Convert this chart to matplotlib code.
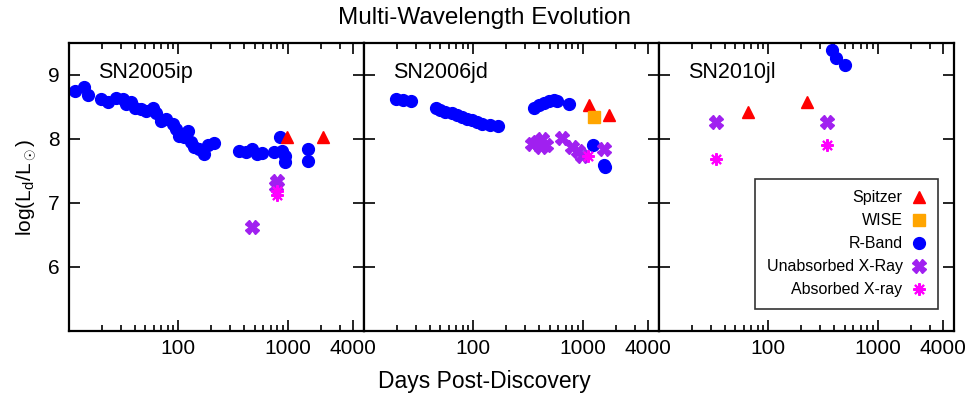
import numpy as np
import matplotlib
matplotlib.use('Agg')
import matplotlib.pyplot as plt
from matplotlib.ticker import FixedLocator, NullFormatter, FixedFormatter

plt.rcParams['font.family'] = ['Liberation Sans', 'DejaVu Sans']
plt.rcParams['mathtext.fontset'] = 'custom'
plt.rcParams['mathtext.rm'] = 'Liberation Sans'
plt.rcParams['mathtext.it'] = 'Liberation Sans'

names = ['SN2005ip', 'SN2006jd', 'SN2010jl']

# SN2005ip
rband_t_05 = [11.3, 13.7, 15, 19.8, 22.8, 27.1, 31.2, 33.4, 37.2, 39.8, 45.8, 50.8, 58.5, 62.7,
              69.5, 77.3, 88.8, 95.2, 102, 113, 122, 130, 140, 155, 172, 185, 212, 359, 412,
              474, 526, 584, 746, 857, 888, 952, 952, 1552, 1552]
rband_L_05 = [8.75, 8.81, 8.68, 8.62, 8.58, 8.64, 8.62, 8.54, 8.58, 8.49, 8.47, 8.44, 8.49, 8.40,
              8.28, 8.31, 8.23, 8.16, 8.05, 8.03, 8.13, 7.95, 7.87, 7.84, 7.77, 7.90, 7.94, 7.82,
              7.79, 7.84, 7.77, 7.78, 7.79, 8.03, 7.82, 7.74, 7.64, 7.84, 7.65]
spitzer_t_05 = [986, 2122]
spitzer_L_05 = [8.03, 8.03]
unabs_t_05 = [468, 800, 790]
unabs_L_05 = [6.63, 7.35, 7.27]
abs_t_05 = [800, 800]
abs_L_05 = [7.19, 7.13]

# SN2006jd
rband_t_06 = [19.7, 22.6, 26.9, 45.2, 50.1, 55.6, 63.8, 70.8, 78.6, 87.1, 96.6, 107, 119, 141,
              168, 359, 399, 443, 491, 545, 583, 743, 1247, 1570, 1610]
rband_L_06 = [8.62, 8.61, 8.60, 8.49, 8.46, 8.42, 8.40, 8.37, 8.34, 8.31, 8.30, 8.27, 8.23, 8.22,
              8.20, 8.48, 8.53, 8.57, 8.60, 8.61, 8.60, 8.54, 7.91, 7.60, 7.56]
spitzer_t_06 = [1148, 1727]
spitzer_L_06 = [8.53, 8.37]
wise_t_06 = [1265]
wise_L_06 = [8.34]
unabs_t_06 = [347, 385, 427, 458, 413, 647, 796, 914, 980, 1567]
unabs_L_06 = [7.92, 7.95, 8.00, 7.90, 7.87, 8.01, 7.87, 7.82, 7.74, 7.85]
abs_t_06 = [1109]
abs_L_06 = [7.73]

# SN2010jl
rband_t_10 = [384, 418, 508]
rband_L_10 = [9.39, 9.27, 9.15]
spitzer_t_10 = [64.9, 228]
spitzer_L_10 = [8.42, 8.58]
unabs_t_10 = [33.4, 344]
unabs_L_10 = [8.26, 8.26]
abs_t_10 = [33.2, 344]
abs_L_10 = [7.68, 7.91]

data = [
    dict(rb=(rband_t_05, rband_L_05), sp=(spitzer_t_05, spitzer_L_05), wi=([], []),
         ua=(unabs_t_05, unabs_L_05), ab=(abs_t_05, abs_L_05)),
    dict(rb=(rband_t_06, rband_L_06), sp=(spitzer_t_06, spitzer_L_06), wi=(wise_t_06, wise_L_06),
         ua=(unabs_t_06, unabs_L_06), ab=(abs_t_06, abs_L_06)),
    dict(rb=(rband_t_10, rband_L_10), sp=(spitzer_t_10, spitzer_L_10), wi=([], []),
         ua=(unabs_t_10, unabs_L_10), ab=(abs_t_10, abs_L_10)),
]

red = '#ff0000'
orange = '#ffa500'
blue = '#0000ff'
purple = '#a020f0'
magenta = '#ff00ff'

fig = plt.figure(figsize=(9.69, 3.99), dpi=100)
left, width = 69 / 969, 295 / 969
bottom, height = 1 - 331 / 399, 288 / 399

axes = []
handles = {}
for i in range(3):
    ax = fig.add_axes([left + i * width, bottom, width, height])
    axes.append(ax)
    d = data[i]
    handles['R-Band'], = ax.plot(*d['rb'], 'o', color=blue, ms=8.5, mec=blue)
    handles['Spitzer'], = ax.plot(*d['sp'], '^', color=red, ms=8.5, mec=red)
    if d['wi'][0]:
        handles['WISE'], = ax.plot(*d['wi'], 's', color=orange, ms=8.5, mec=orange)
    handles['Unabsorbed X-Ray'], = ax.plot(*d['ua'], 'X', color=purple, ms=10, mec=purple)
    handles['Absorbed X-ray'], = ax.plot(*d['ab'], ls='none', marker=(8, 2, 0), color=magenta,
                                         ms=9, mew=1.5)
    ax.set_xscale('log')
    ax.set_xlim(10, 5000)
    ax.set_ylim(5.0, 9.5)
    ax.xaxis.set_major_locator(FixedLocator([100, 1000, 4000]))
    ax.xaxis.set_major_formatter(FixedFormatter(['100', '1000', '4000']))
    ax.xaxis.set_minor_locator(FixedLocator([k * 10 ** e for e in range(1, 4) for k in range(1, 10)]))
    ax.xaxis.set_minor_formatter(NullFormatter())
    ax.set_yticks([6, 7, 8, 9])
    ax.tick_params(which='both', direction='in', top=True, right=True, labelsize=15, width=1.2)
    ax.tick_params(which='major', length=8)
    ax.tick_params(which='minor', length=4)
    ax.tick_params(axis='y', pad=7)
    ax.tick_params(axis='x', pad=6)
    for s in ax.spines.values():
        s.set_linewidth(1.6)
    if i > 0:
        ax.set_yticklabels([])
    ax.text(0.098, 0.935, names[i], transform=ax.transAxes, fontsize=15.5, va='top', ha='left')

axes[0].set_ylabel(r'log(L$_\mathrm{d}$/L$_\odot$)', fontsize=15, labelpad=6)

order = ['Spitzer', 'WISE', 'R-Band', 'Unabsorbed X-Ray', 'Absorbed X-ray']
leg = axes[2].legend([handles[k] for k in order], order, loc='lower right', markerfirst=False,
                     fontsize=11.5, frameon=True, fancybox=False, edgecolor='black',
                     handlelength=1.0, handletextpad=0.5, borderpad=0.7, labelspacing=0.5,
                     bbox_to_anchor=(0.972, 0.05))
leg.get_frame().set_linewidth(1.2)

fig.text(0.5, 0.955, 'Multi-Wavelength Evolution', ha='center', va='center', fontsize=17.5)
fig.text(0.5, 0.043, 'Days Post-Discovery', ha='center', va='center', fontsize=16.5)

fig.savefig('out.png', dpi=100)
